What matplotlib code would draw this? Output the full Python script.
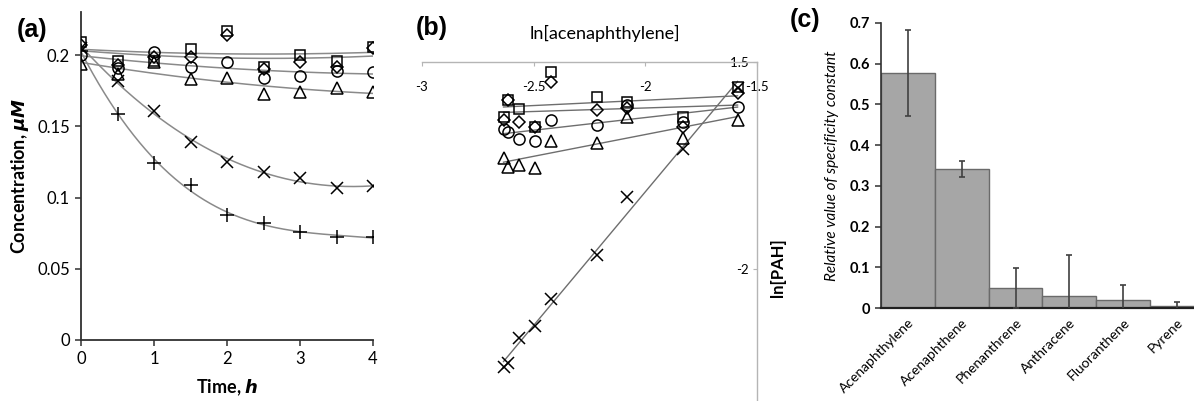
import numpy as np
import matplotlib
matplotlib.use("Agg")
import matplotlib.pyplot as plt

# ---------------- data ----------------
# (a) concentration vs time
time_h = [0, 0.5, 1, 1.5, 2, 2.5, 3, 3.5, 4]
conc_square = [0.209, 0.196, 0.196, 0.204, 0.217, 0.192, 0.200, 0.196, 0.206]
conc_diamond = [0.207, 0.193, 0.199, 0.199, 0.214, 0.190, 0.195, 0.192, 0.205]
conc_circle = [0.200, 0.191, 0.202, 0.192, 0.195, 0.184, 0.185, 0.189, 0.188]
conc_triangle = [0.194, 0.187, 0.195, 0.183, 0.184, 0.1725, 0.174, 0.1767, 0.174]
conc_cross = [0.205, 0.182, 0.161, 0.139, 0.125, 0.118, 0.114, 0.107, 0.108]
conc_plus = [0.203, 0.159, 0.124, 0.109, 0.088, 0.082, 0.076, 0.072, 0.0725]
a_yticks = [0, 0.05, 0.1, 0.15, 0.2]
a_yticklabels = ["0", "0.05", "0.1", "0.15", "0.2"]

# (b) ln[PAH] vs ln[acenaphthylene]
ln_acenaphthylene = [-2.635, -2.617, -2.566, -2.494, -2.422, -2.218, -2.082, -1.833, -1.587]
ln_square = [-1.633, -1.592, -1.613, -1.657, -1.524, -1.585, -1.597, -1.633, -1.560]
ln_diamond = [-1.640, -1.592, -1.645, -1.657, -1.548, -1.616, -1.611, -1.657, -1.575]
ln_circle = [-1.662, -1.669, -1.686, -1.691, -1.640, -1.652, -1.604, -1.645, -1.609]
ln_triangle = [-1.732, -1.754, -1.749, -1.756, -1.691, -1.696, -1.633, -1.684, -1.640]
ln_cross = [-2.237, -2.227, -2.167, -2.138, -2.072, -1.966, -1.826, -1.710, -1.563]
b_xticks = [-3, -2.5, -2, -1.5]
b_yticks = [-2, -1.5]

# (c) relative specificity constant
pah_names = ["Acenaphthylene", "Acenaphthene", "Phenanthrene", "Anthracene",
             "Fluoranthene", "Pyrene"]
rel_k = [0.577, 0.341, 0.049, 0.030, 0.020, 0.005]
rel_err = [0.105, 0.019, 0.050, 0.100, 0.036, 0.010]
c_yticks = [0, 0.1, 0.2, 0.3, 0.4, 0.5, 0.6, 0.7]

# ---------------- figure ----------------
W, H = 1194, 401
fig = plt.figure(figsize=(W / 100, H / 100), dpi=100)
FONT = "Lato"
line_col = "#8a8a8a"


def fa(x0, y_top, x1, y_bot):
    return [x0 / W, 1 - y_bot / H, (x1 - x0) / W, (y_bot - y_top) / H]


mk = dict(mfc="none", mec="black", mew=1.1, ls="none")

# ---- panel (a) ----
axA = fig.add_axes(fa(81, 12.4, 373, 340))
t = np.array(time_h)
tt = np.linspace(0, 4, 200)
series_a = [
    (conc_square, "s", 7.5, 2),
    (conc_diamond, "D", 6, 2),
    (conc_circle, "o", 8, 2),
    (conc_triangle, "^", 8, 2),
    (conc_cross, "x", 8.5, 3),
    (conc_plus, "+", 9.5, 3),
]
for vals, m, ms, deg in series_a:
    c = np.polyfit(t, vals, deg)
    axA.plot(tt, np.polyval(c, tt), color=line_col, lw=1.1, zorder=1)
for vals, m, ms, deg in series_a:
    axA.plot(t, vals, marker=m, ms=ms, zorder=3, **mk)
axA.set_xlim(0, 4)
axA.set_ylim(0, 0.23)
axA.set_xticks([0, 1, 2, 3, 4])
axA.set_yticks(a_yticks)
axA.set_yticklabels(a_yticklabels)
for s in ["top", "right"]:
    axA.spines[s].set_visible(False)
for s in ["left", "bottom"]:
    axA.spines[s].set_color("#303030")
    axA.spines[s].set_linewidth(1.3)
axA.tick_params(direction="out", length=4, width=1.1, color="#303030",
                labelsize=12, pad=4)
for lab in axA.get_xticklabels() + axA.get_yticklabels():
    lab.set_fontfamily(FONT)
axA.set_xlabel(r"Time, $\boldsymbol{h}$", fontfamily=FONT, fontsize=13,
               fontweight="bold")
axA.xaxis.set_label_coords(0.5, -0.115)
axA.set_ylabel("Concentration, $\\boldsymbol{\\mu M}$", fontfamily=FONT,
               fontsize=13, fontweight="bold")
axA.yaxis.set_label_coords(-0.17, 0.5)
fig.text(32 / W, 1 - 30 / H, "(a)", fontfamily="Liberation Sans", fontsize=18,
         fontweight="bold", ha="center", va="center")

# ---- panel (b) ----
axB = fig.add_axes(fa(422, 62, 757, 401))
bx = np.array(ln_acenaphthylene)
series_b = [
    (ln_square, "s", 7.5),
    (ln_diamond, "D", 6),
    (ln_circle, "o", 8),
    (ln_triangle, "^", 8),
    (ln_cross, "x", 8.5),
]
for vals, m, ms in series_b:
    c = np.polyfit(bx, vals, 1)
    xx = np.array([bx.min(), bx.max()])
    axB.plot(xx, np.polyval(c, xx), color="#6e6e6e", lw=1.0, zorder=1)
for vals, m, ms in series_b:
    axB.plot(bx, vals, marker=m, ms=ms, zorder=3, **mk)
axB.set_xlim(-3, -1.5)
axB.set_ylim(-1.5 - 339 / 414, -1.5)
axB.set_xticks(b_xticks)
axB.set_xticklabels(["-3", "-2.5", "-2", "-1.5"])
axB.set_yticks(b_yticks)
axB.set_yticklabels(["-2", "-1.5"])
axB.spines["top"].set_visible(False)
axB.spines["right"].set_visible(False)
axB.spines["bottom"].set_position(("axes", 1.0))
axB.spines["left"].set_position(("axes", 1.0))
for s in ["bottom", "left"]:
    axB.spines[s].set_color("#b5b5b5")
    axB.spines[s].set_linewidth(1.0)
axB.tick_params(axis="x", direction="out", length=3, width=0.8,
                color="#b5b5b5", labelsize=9.5, pad=11)
axB.tick_params(axis="y", direction="out", length=3, width=0.8,
                color="#b5b5b5", labelsize=9.5, pad=3)
for lab in axB.get_xticklabels() + axB.get_yticklabels():
    lab.set_fontfamily(FONT)
axB.text(0.546, 1 + 29 / 339, "ln[acenaphthylene]", transform=axB.transAxes,
         ha="center", va="center", fontfamily=FONT, fontsize=13)
axB.text(1 + 21 / 335, 1 - 206 / 339, "ln[PAH]", transform=axB.transAxes,
         ha="center", va="center", rotation=90, fontfamily=FONT, fontsize=12,
         fontweight="bold")
fig.text(432 / W, 1 - 28 / H, "(b)", fontfamily="Liberation Sans", fontsize=18,
         fontweight="bold", ha="center", va="center")

# ---- panel (c) ----
axC = fig.add_axes(fa(881, 23, 881 + 6 * 53.8, 308))
xpos = np.arange(len(pah_names))
axC.bar(xpos, rel_k, width=1.0, color="#a6a6a6", edgecolor="#6a6a6a",
        linewidth=1.0, zorder=2)
axC.errorbar(xpos, rel_k, yerr=rel_err, fmt="none", ecolor="#404040",
             elinewidth=1.2, capsize=2.2, capthick=1.2, zorder=3)
axC.set_xlim(-0.5, 5.5)
axC.set_ylim(0, 0.7)
axC.set_yticks(c_yticks)
axC.set_yticklabels(["0", "0.1", "0.2", "0.3", "0.4", "0.5", "0.6", "0.7"])
axC.set_xticks(xpos)
axC.set_xticklabels(pah_names, rotation=45, ha="right", rotation_mode="anchor")
axC.spines["top"].set_visible(False)
axC.spines["right"].set_visible(False)
axC.spines["left"].set_color("#303030")
axC.spines["left"].set_linewidth(1.2)
axC.spines["bottom"].set_color("#202020")
axC.spines["bottom"].set_linewidth(1.6)
axC.tick_params(axis="y", direction="out", length=4, width=1.1,
                color="#303030", labelsize=10.5, pad=4)
axC.tick_params(axis="x", length=0, labelsize=10, pad=6)
for lab in axC.get_yticklabels():
    lab.set_fontfamily(FONT)
    lab.set_fontweight("bold")
for lab in axC.get_xticklabels():
    lab.set_fontfamily(FONT)
axC.set_ylabel("Relative value of specificity constant", fontfamily=FONT,
               fontsize=11, fontstyle="italic")
axC.yaxis.set_label_coords(-0.13, 0.5)
fig.text(805 / W, 1 - 20 / H, "(c)", fontfamily="Liberation Sans", fontsize=18,
         fontweight="bold", ha="center", va="center")

fig.savefig("out.png", dpi=100)
